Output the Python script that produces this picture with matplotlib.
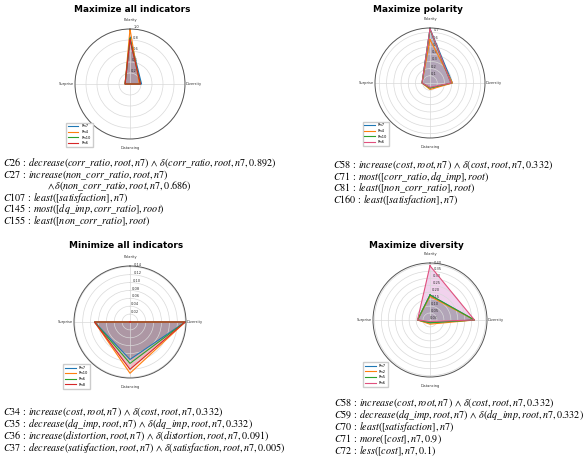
import numpy as np
import matplotlib
matplotlib.use("Agg")
import matplotlib.pyplot as plt

plt.rcParams["mathtext.fontset"] = "stix"
plt.rcParams["font.family"] = ["DejaVu Sans"]

# Radar axes, clockwise from the top
indicators = ["Polarity", "Diversity", "Distancing", "Surprise"]

# Panel 1: maximize all indicators
p1_series = ["Rn7", "Rn4", "Rn10", "Rn6"]
p1_rn7 = [0.85, 0.21, 0.0, 0.09]
p1_rn4 = [1.00, 0.17, 0.0, 0.09]
p1_rn10 = [0.82, 0.19, 0.0, 0.09]
p1_rn6 = [0.80, 0.19, 0.0, 0.09]
p1_ticks = [0.2, 0.4, 0.6, 0.8, 1.0]

# Panel 2: maximize polarity
p2_series = ["Rn7", "Rn4", "Rn10", "Rn6"]
p2_rn7 = [0.75, 0.31, 0.07, 0.11]
p2_rn4 = [0.60, 0.31, 0.09, 0.11]
p2_rn10 = [0.74, 0.29, 0.07, 0.11]
p2_rn6 = [0.75, 0.29, 0.06, 0.11]
p2_ticks = [0.1, 0.2, 0.3, 0.4, 0.5, 0.6, 0.7]

# Panel 3: minimize all indicators
p3_series = ["Rn7", "Rn10", "Rn6", "Rn8"]
p3_rn7 = [0.0, 0.14, 0.095, 0.09]
p3_rn10 = [0.0, 0.14, 0.130, 0.09]
p3_rn6 = [0.0, 0.14, 0.105, 0.09]
p3_rn8 = [0.0, 0.14, 0.120, 0.09]
p3_ticks = [0.02, 0.04, 0.06, 0.08, 0.10, 0.12, 0.14]

# Panel 4: maximize diversity
p4_series = ["Rn7", "Rn2", "Rn5", "Rn6"]
p4_rn7 = [0.18, 0.32, 0.02, 0.09]
p4_rn2 = [0.17, 0.32, 0.03, 0.09]
p4_rn5 = [0.18, 0.32, 0.02, 0.09]
p4_rn6 = [0.39, 0.32, 0.01, 0.09]
p4_ticks = [0.00, 0.05, 0.10, 0.15, 0.20, 0.25, 0.30, 0.35, 0.40]

titles = ["Maximize all indicators", "Maximize polarity",
          "Minimize all indicators", "Maximize diversity"]

S = r"\,:\,"
A = r"\,\wedge\,"
p1_text = [
    r"$C26" + S + r"decrease(corr\_ratio,root,n7)" + A + r"\delta(corr\_ratio,root,n7,0.892)$",
    r"$C27" + S + r"increase(non\_corr\_ratio,root,n7)$",
    r"$\wedge\,\delta(non\_corr\_ratio,root,n7,0.686)$",
    r"$C107" + S + r"least([satisfaction],n7)$",
    r"$C145" + S + r"most([dq\_imp,corr\_ratio],root)$",
    r"$C155" + S + r"least([non\_corr\_ratio],root)$",
]
p2_text = [
    r"$C58" + S + r"increase(cost,root,n7)" + A + r"\delta(cost,root,n7,0.332)$",
    r"$C71" + S + r"most([corr\_ratio,dq\_imp],root)$",
    r"$C81" + S + r"least([non\_corr\_ratio],root)$",
    r"$C160" + S + r"least([satisfaction],n7)$",
]
p3_text = [
    r"$C34" + S + r"increase(cost,root,n7)" + A + r"\delta(cost,root,n7,0.332)$",
    r"$C35" + S + r"decrease(dq\_imp,root,n7)" + A + r"\delta(dq\_imp,root,n7,0.332)$",
    r"$C36" + S + r"increase(distortion,root,n7)" + A + r"\delta(distortion,root,n7,0.091)$",
    r"$C37" + S + r"decrease(satisfaction,root,n7)" + A + r"\delta(satisfaction,root,n7,0.005)$",
]
p4_text = [
    r"$C58" + S + r"increase(cost,root,n7)" + A + r"\delta(cost,root,n7,0.332)$",
    r"$C59" + S + r"decrease(dq\_imp,root,n7)" + A + r"\delta(dq\_imp,root,n7,0.332)$",
    r"$C70" + S + r"least([satisfaction],n7)$",
    r"$C71" + S + r"more([cost],n7,0.9)$",
    r"$C72" + S + r"less([cost],n7,0.1)$",
]

line_red = ["#1f77b4", "#ff7f0e", "#2ca02c", "#d62728"]
line_pink = ["#1f77b4", "#ff7f0e", "#2ca02c", "#e0507e"]
fill_red = ["#1f77b4", "#ff7f0e", "#2ca02c", "#c0307a"]
fill_pink = ["#1f77b4", "#ff7f0e", "#2ca02c", "#d060c0"]
fill_alpha = [0.35, 0.12, 0.12, 0.28]

W, H = 587, 462
fig = plt.figure(figsize=(W / 100, H / 100), dpi=100)


def px_box(cx, cy, r):
    return [(cx - r) / W, (H - cy - r) / H, 2 * r / W, 2 * r / H]


def radar(cx, cy, r, names, values, ticks, rmax, fmt, colors, fills, leg_anchor):
    ax = fig.add_axes(px_box(cx, cy, r), projection="polar")
    ax.set_theta_offset(np.pi / 2)
    ax.set_theta_direction(-1)
    angles = np.linspace(0, 2 * np.pi, len(indicators), endpoint=False)
    closed = np.concatenate([angles, angles[:1]])
    for name, vals, c, fc, fa in zip(names, values, colors, fills, fill_alpha):
        v = np.concatenate([vals, vals[:1]])
        ax.plot(closed, v, color=c, linewidth=0.8, label=name)
        ax.fill(closed, v, color=fc, alpha=fa, linewidth=0)
    ax.set_ylim(0, rmax)
    ax.set_yticks(ticks)
    ax.set_yticklabels([fmt.format(t) for t in ticks], fontsize=2.6, color="#333333")
    ax.set_rlabel_position(4)
    ax.set_xticks(angles)
    ax.set_xticklabels(indicators, fontsize=2.6, color="#333333")
    ax.tick_params(axis="x", pad=-4)
    ax.grid(color="#d9d9d9", linewidth=0.5)
    ax.spines["polar"].set_color("#555555")
    ax.spines["polar"].set_linewidth(0.7)
    ax.legend(loc="lower left", bbox_to_anchor=leg_anchor, fontsize=2.6,
              handlelength=3, borderpad=0.5, labelspacing=0.45,
              frameon=True, edgecolor="#cccccc", fancybox=False,
              framealpha=1)
    return ax


radar(130, 84, 55, p1_series, [p1_rn7, p1_rn4, p1_rn10, p1_rn6],
      p1_ticks, 1.0, "{:.1f}", line_red, fill_red, (-0.1, -0.09))
radar(430, 83, 55, p2_series, [p2_rn7, p2_rn4, p2_rn10, p2_rn6],
      p2_ticks, 0.76, "{:.1f}", line_pink, fill_pink, (-0.13, -0.09))
radar(130, 322, 56, p3_series, [p3_rn7, p3_rn10, p3_rn6, p3_rn8],
      p3_ticks, 0.142, "{:.2f}", line_red, fill_red, (-0.11, -0.11))
radar(430, 320, 57, p4_series, [p4_rn7, p4_rn2, p4_rn5, p4_rn6],
      p4_ticks, 0.41, "{:.2f}", line_pink, fill_pink, (-0.1, -0.1))

# Panel titles
for (x, y), t in zip([(132, 10), (418, 10), (126, 246), (416, 246)], titles):
    fig.text(x / W, 1 - y / H, t, fontsize=6.4, fontweight="bold",
             ha="center", va="center")


def formula_block(x, ys, lines, indent_idx=None):
    for i, (y, s) in enumerate(zip(ys, lines)):
        xx = x + (44 if indent_idx is not None and i == indent_idx else 0)
        fig.text(xx / W, 1 - y / H, s, fontsize=7.3, ha="left", va="center")


formula_block(3, [163.5, 175, 186.5, 198, 209.5, 221], p1_text, indent_idx=2)
formula_block(333, [165, 176.5, 188, 200], p2_text)
formula_block(3, [412, 424, 436, 448], p3_text)
formula_block(334, [403.5, 415.5, 427.5, 439.5, 451.5], p4_text)

fig.savefig("out.png", dpi=100)
